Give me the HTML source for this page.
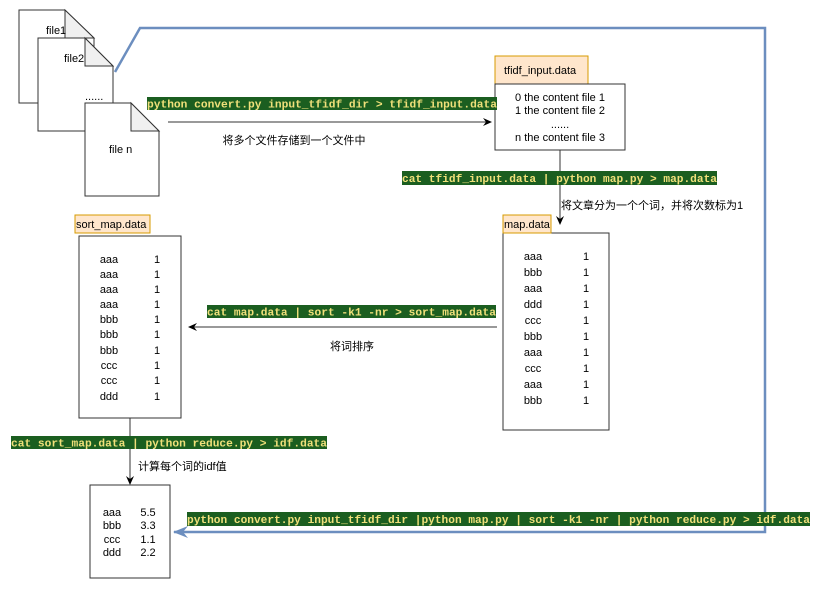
<!DOCTYPE html>
<html><head><meta charset="utf-8"><style>
html,body{margin:0;padding:0;background:#fff;}
svg text{font-family:"Liberation Sans","Noto Sans CJK SC",sans-serif;font-size:11px;fill:#000;}
svg text.m{font-family:"Liberation Mono",monospace;font-size:11px;fill:#f0e07a;font-weight:bold;}
</style></head><body>
<svg width="832" height="590" viewBox="0 0 832 590" xmlns="http://www.w3.org/2000/svg">
<defs>
<marker id="a" markerWidth="10" markerHeight="10" refX="8" refY="5" orient="auto" markerUnits="userSpaceOnUse"><path d="M0,1 L9,5 L0,9 L3,5 Z" fill="#000"/></marker>
<marker id="b" markerWidth="16" markerHeight="14" refX="14" refY="7" orient="auto" markerUnits="userSpaceOnUse"><path d="M0,1 L15,7 L0,13 L5,7 Z" fill="#6c8ebf"/></marker>
</defs>
<g stroke="#333" stroke-width="1" fill="#fff">
<path d="M19,10 H65 L94,38 V103 H19 Z"/><path d="M65,10 V38 H94 Z" fill="#f0f0f0"/>
<path d="M38,38 H85 L113,66 V131 H38 Z"/><path d="M85,38 V66 H113 Z" fill="#f0f0f0"/>
<path d="M85,103 H131 L159,131 V196 H85 Z"/><path d="M131,103 V131 H159 Z" fill="#f0f0f0"/>
</g>
<text x="46" y="34">file1</text><text x="64" y="62">file2</text><text x="85" y="100">......</text><text x="109" y="153">file n</text>
<polyline points="115,72 140,28 765,28 765,532 174,532" fill="none" stroke="#6c8ebf" stroke-width="2.5" marker-end="url(#b)"/>
<!-- tfidf_input -->
<rect x="495" y="56" width="93" height="28" fill="#ffe6cc" stroke="#d79b00"/>
<text x="504" y="74">tfidf_input.data</text>
<rect x="495" y="84" width="130" height="66" fill="#fff" stroke="#333"/>
<text x="560" y="101" text-anchor="middle">0  the content file 1</text>
<text x="560" y="114" text-anchor="middle">1  the content file 2</text>
<text x="560" y="128" text-anchor="middle">......</text>
<text x="560" y="141" text-anchor="middle">n the content file 3</text>
<line x1="168" y1="122" x2="491" y2="122" stroke="#333" marker-end="url(#a)"/>
<rect x="147" y="97" width="350" height="13" fill="#1b5e20"/>
<text class="m" x="147" y="107.5" textLength="350" lengthAdjust="spacingAndGlyphs">python convert.py input_tfidf_dir &gt; tfidf_input.data</text>
<text x="294" y="144" text-anchor="middle">将多个文件存储到一个文件中</text>
<line x1="560" y1="150" x2="560" y2="224" stroke="#333" marker-end="url(#a)"/>
<rect x="402" y="171" width="315" height="14" fill="#1b5e20"/>
<text class="m" x="402" y="182" textLength="315" lengthAdjust="spacingAndGlyphs">cat tfidf_input.data | python map.py &gt; map.data</text>
<text x="561" y="209">将文章分为一个个词，并将次数标为1</text>
<!-- map.data -->
<rect x="503" y="233" width="106" height="197" fill="#fff" stroke="#333"/>
<rect x="503" y="215" width="48" height="18" fill="#ffe6cc" stroke="#d79b00"/>
<text x="504" y="228">map.data</text>
<g text-anchor="middle">
<text x="533" y="260">aaa</text><text x="586" y="260">1</text>
<text x="533" y="276">bbb</text><text x="586" y="276">1</text>
<text x="533" y="292">aaa</text><text x="586" y="292">1</text>
<text x="533" y="308">ddd</text><text x="586" y="308">1</text>
<text x="533" y="324">ccc</text><text x="586" y="324">1</text>
<text x="533" y="340">bbb</text><text x="586" y="340">1</text>
<text x="533" y="356">aaa</text><text x="586" y="356">1</text>
<text x="533" y="372">ccc</text><text x="586" y="372">1</text>
<text x="533" y="388">aaa</text><text x="586" y="388">1</text>
<text x="533" y="404">bbb</text><text x="586" y="404">1</text>
</g>
<line x1="497" y1="327" x2="189" y2="327" stroke="#333" marker-end="url(#a)"/>
<rect x="207" y="305" width="289" height="13" fill="#1b5e20"/>
<text class="m" x="207" y="315.5" textLength="289" lengthAdjust="spacingAndGlyphs">cat map.data | sort -k1 -nr &gt; sort_map.data</text>
<text x="352" y="350" text-anchor="middle">将词排序</text>
<!-- sort_map -->
<rect x="79" y="236" width="102" height="182" fill="#fff" stroke="#333"/>
<rect x="75" y="215" width="75" height="18" fill="#ffe6cc" stroke="#d79b00"/>
<text x="76" y="228">sort_map.data</text>
<g text-anchor="middle">
<text x="109" y="263">aaa</text><text x="157" y="263">1</text>
<text x="109" y="278">aaa</text><text x="157" y="278">1</text>
<text x="109" y="293">aaa</text><text x="157" y="293">1</text>
<text x="109" y="308">aaa</text><text x="157" y="308">1</text>
<text x="109" y="323">bbb</text><text x="157" y="323">1</text>
<text x="109" y="338">bbb</text><text x="157" y="338">1</text>
<text x="109" y="354">bbb</text><text x="157" y="354">1</text>
<text x="109" y="369">ccc</text><text x="157" y="369">1</text>
<text x="109" y="384">ccc</text><text x="157" y="384">1</text>
<text x="109" y="400">ddd</text><text x="157" y="400">1</text>
</g>
<line x1="130" y1="418" x2="130" y2="484" stroke="#333" marker-end="url(#a)"/>
<rect x="11" y="436" width="316" height="13" fill="#1b5e20"/>
<text class="m" x="11" y="446.5" textLength="316" lengthAdjust="spacingAndGlyphs">cat sort_map.data | python reduce.py &gt; idf.data</text>
<text x="138" y="470">计算每个词的idf值</text>
<!-- idf -->
<rect x="90" y="485" width="80" height="93" fill="#fff" stroke="#333"/>
<g text-anchor="middle">
<text x="112" y="516">aaa</text><text x="148" y="516">5.5</text>
<text x="112" y="529">bbb</text><text x="148" y="529">3.3</text>
<text x="112" y="543">ccc</text><text x="148" y="543">1.1</text>
<text x="112" y="556">ddd</text><text x="148" y="556">2.2</text>
</g>
<rect x="187" y="512" width="623" height="14" fill="#1b5e20"/>
<text class="m" x="187" y="523" textLength="623" lengthAdjust="spacingAndGlyphs">python convert.py input_tfidf_dir |python map.py | sort -k1 -nr | python reduce.py &gt; idf.data</text>
</svg>
</body></html>
